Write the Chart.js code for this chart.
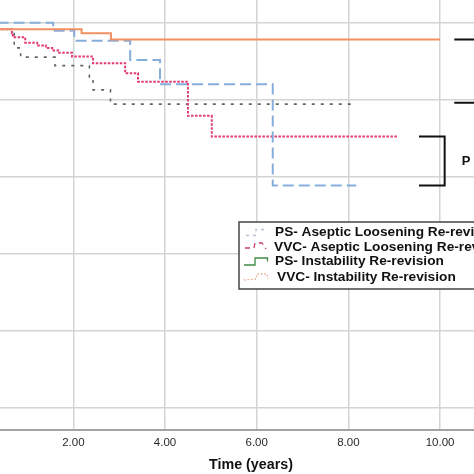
<!DOCTYPE html>
<html>
<head>
<meta charset="utf-8">
<script src="https://cdn.jsdelivr.net/npm/chart.js@4.4.1/dist/chart.umd.min.js"></script>
<style>
  html, body { margin: 0; padding: 0; background: #fff; }
  #wrap { width: 474px; height: 474px; overflow: hidden; }
</style>
</head>
<body>
<div id="wrap"><canvas id="kmChart" width="474" height="474"></canvas></div>
<script>
// Kaplan-Meier curves: time (years) and cumulative survival after each event
var psAsepticTime = [0, 1.56, 2.02, 3.24, 3.89, 6.35, 8.17];
var psAsepticSurv = [1.0, 0.9948, 0.9883, 0.9758, 0.960, 0.8943, 0.8943];

var vvcAsepticTime = [0, 0.66, 0.68, 0.95, 1.21, 1.40, 1.54, 1.67, 1.97, 2.43, 3.13, 3.41, 4.50, 5.02, 9.06];
var vvcAsepticSurv = [0.9957, 0.9933, 0.9905, 0.987, 0.9851, 0.9836, 0.982, 0.9805, 0.978, 0.9737, 0.9672, 0.9617, 0.9395, 0.9261, 0.9261];

var psInstabTime = [0, 0.71, 0.85, 1.60, 2.35, 2.43, 2.81, 8.17];
var psInstabSurv = [0.9957, 0.9836, 0.9776, 0.9721, 0.9648, 0.9564, 0.9471, 0.9471];

var vvcInstabTime = [0, 2.18, 2.82, 10.0];
var vvcInstabSurv = [0.9957, 0.9931, 0.9891, 0.9891];

var legendLabels = [
  "PS- Aseptic Loosening Re-revision",
  "VVC- Aseptic Loosening Re-revision",
  "PS- Instability Re-revision",
  "VVC- Instability Re-revision"
];

var xTicks = [2, 4, 6, 8, 10];
var yTicks = [0.75, 0.80, 0.85, 0.90, 0.95, 1.00];

function toPoints(times, surv) {
  return times.map(function (t, i) { return { x: t, y: surv[i] }; });
}

var FONT = "'Liberation Sans', Arial, sans-serif";

// legend, p-value brackets and axis title drawn on top
var overlayPlugin = {
  id: "overlay",
  afterDraw: function (chart) {
    var ctx = chart.ctx;
    var xs = chart.scales.x, ys = chart.scales.y;
    ctx.save();

    // axis title
    ctx.fillStyle = "#111";
    ctx.font = "bold 14.3px " + FONT;
    ctx.textAlign = "center";
    ctx.textBaseline = "middle";
    ctx.fillText("Time (years)", 251, 465);

    // p-value brackets (cut off at the right edge)
    ctx.strokeStyle = "#111";
    ctx.lineWidth = 2;
    var yOr = ys.getPixelForValue(vvcInstabSurv[vvcInstabSurv.length - 1]);
    var yGr = ys.getPixelForValue(psInstabSurv[psInstabSurv.length - 1]) - 1.5;
    var yPk = ys.getPixelForValue(vvcAsepticSurv[vvcAsepticSurv.length - 1]);
    var yBl = ys.getPixelForValue(psAsepticSurv[psAsepticSurv.length - 1]);
    var xA = xs.getPixelForValue(10.31);
    ctx.beginPath();
    ctx.moveTo(xA, yOr); ctx.lineTo(480, yOr);
    ctx.moveTo(xA, yGr); ctx.lineTo(480, yGr);
    var xL = xs.getPixelForValue(9.54), xR = xs.getPixelForValue(10.10);
    ctx.moveTo(xL, yPk); ctx.lineTo(xR, yPk); ctx.lineTo(xR, yBl); ctx.lineTo(xL, yBl);
    ctx.stroke();
    ctx.font = "bold 13px " + FONT;
    ctx.fillText("P", 466, (yPk + yBl) / 2);

    // legend box
    var lx = 239, ly = 222;
    ctx.fillStyle = "#fff";
    ctx.fillRect(lx, ly, 260, 67);
    ctx.strokeStyle = "#444";
    ctx.lineWidth = 1.5;
    ctx.strokeRect(lx, ly, 260, 67);

    var rows = [232.5, 247, 261.5, 277];
    var textX = [275, 274, 275, 277];
    ctx.fillStyle = "#111";
    ctx.font = "bold 13.7px " + FONT;
    ctx.textAlign = "left";
    legendLabels.forEach(function (lab, i) {
      ctx.fillText(lab, textX[i], rows[i]);
    });

    // legend samples
    ctx.lineWidth = 1.3;
    ctx.strokeStyle = "#b6c2d2";
    ctx.setLineDash([3, 4]);
    ctx.beginPath();
    ctx.moveTo(246, rows[0] + 3); ctx.lineTo(256, rows[0] + 3); ctx.lineTo(256, rows[0] - 3); ctx.lineTo(268, rows[0] - 3);
    ctx.stroke();

    ctx.strokeStyle = "#c8406e";
    ctx.setLineDash([5, 4]);
    ctx.beginPath();
    ctx.moveTo(245, rows[1] + 1); ctx.lineTo(254, rows[1] + 1); ctx.lineTo(255, rows[1] - 4); ctx.lineTo(262, rows[1] - 4); ctx.lineTo(266, rows[1] + 2);
    ctx.stroke();

    ctx.strokeStyle = "#3f8a44";
    ctx.setLineDash([]);
    ctx.beginPath();
    ctx.moveTo(244, rows[2] + 3.5); ctx.lineTo(255, rows[2] + 3.5); ctx.lineTo(255, rows[2] - 3.5); ctx.lineTo(267.5, rows[2] - 3.5); ctx.lineTo(267.5, rows[2]);
    ctx.stroke();

    ctx.strokeStyle = "#e9a484";
    ctx.setLineDash([1.5, 2]);
    ctx.beginPath();
    ctx.moveTo(244, rows[3] + 3); ctx.lineTo(256, rows[3] + 2); ctx.lineTo(257, rows[3] - 3); ctx.lineTo(267, rows[3] - 3); ctx.lineTo(268, rows[3] + 2);
    ctx.stroke();

    ctx.restore();
  }
};

var ctx = document.getElementById("kmChart");

var myChart = new Chart(ctx, {
  type: "line",
  data: {
    datasets: [
      {
        label: legendLabels[3],
        data: toPoints(vvcInstabTime, vvcInstabSurv),
        borderColor: "#f09062",
        borderWidth: 2,
        order: 0
      },
      {
        label: legendLabels[0],
        data: toPoints(psAsepticTime, psAsepticSurv),
        borderColor: "#86aedc",
        borderWidth: 2,
        borderDash: [11, 5],
        order: 1
      },
      {
        label: legendLabels[1],
        data: toPoints(vvcAsepticTime, vvcAsepticSurv),
        borderColor: "#e23a72",
        borderWidth: 2,
        borderDash: [2.5, 1.5],
        order: 2
      },
      {
        label: legendLabels[2],
        data: toPoints(psInstabTime, psInstabSurv),
        borderColor: "#5c6b58",
        borderWidth: 1.6,
        borderDash: [3, 6],
        order: 3
      }
    ]
  },
  options: {
    responsive: false,
    animation: false,
    layout: { padding: { left: 0, right: 0, top: 0, bottom: 17.8 } },
    elements: {
      point: { radius: 0 },
      line: { stepped: "before", tension: 0, fill: false }
    },
    plugins: {
      legend: { display: false },
      tooltip: { enabled: false }
    },
    scales: {
      x: {
        type: "linear",
        min: 0.4,
        max: 10.74,
        afterBuildTicks: function (scale) {
          scale.ticks = xTicks.map(function (v) { return { value: v }; });
        },
        ticks: {
          autoSkip: false,
          maxRotation: 0,
          padding: 6.4,
          color: "#2a2a2a",
          font: { family: FONT, size: 11.5 },
          callback: function (v) { return Number(v).toFixed(2); }
        },
        grid: { color: "#d4d4d4", lineWidth: 1.5, drawTicks: false },
        border: { display: true, color: "#a3a3a3", width: 2 }
      },
      y: {
        min: 0.7359,
        max: 1.0147,
        afterBuildTicks: function (scale) {
          scale.ticks = yTicks.map(function (v) { return { value: v }; });
        },
        ticks: { display: false },
        grid: { color: "#d4d4d4", lineWidth: 1.5, drawTicks: false },
        border: { display: false }
      }
    }
  },
  plugins: [overlayPlugin]
});
</script>
</body>
</html>
